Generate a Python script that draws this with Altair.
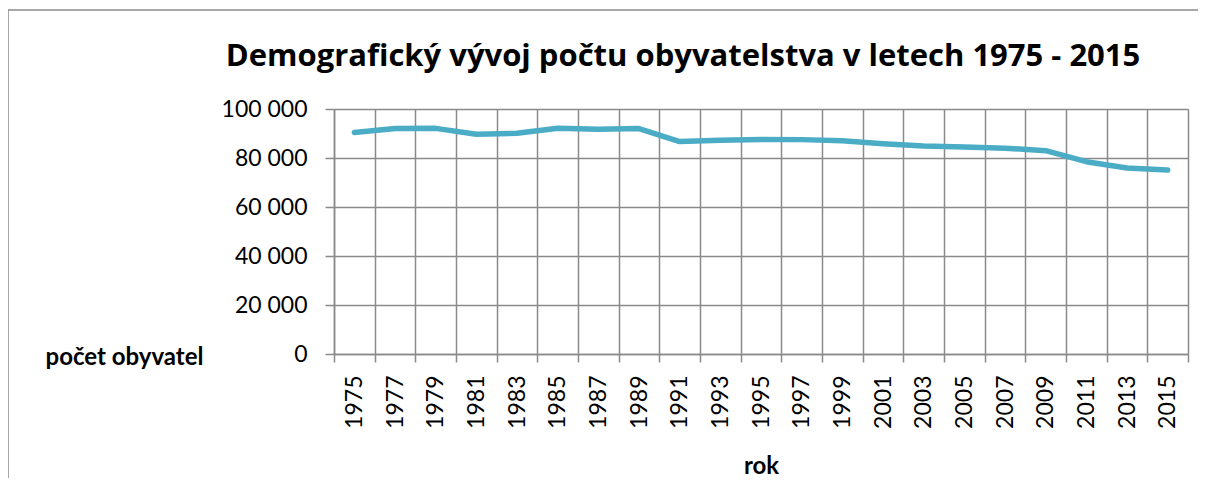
import altair as alt
import pandas as pd

years = ["1975", "1977", "1979", "1981", "1983", "1985", "1987", "1989", "1991",
         "1993", "1995", "1997", "1999", "2001", "2003", "2005", "2007", "2009",
         "2011", "2013", "2015"]
population = [90400, 92000, 92100, 89700, 90100, 92100, 91700, 92000, 86700,
              87200, 87600, 87500, 87000, 85800, 84900, 84500, 84000, 83000,
              78500, 75900, 75100]
y_ticks = [0, 20000, 40000, 60000, 80000, 100000]

GRID = "#8a8a8a"
FONT = "Lato"

df = pd.DataFrame({"rok": years, "pocet": population})
frame_df = pd.DataFrame({"k": [0]})

frame_top = alt.Chart(frame_df).mark_rule(color=GRID, strokeWidth=1.5).encode(
    x=alt.value(-326), x2=alt.value(864), y=alt.value(-99)
)
frame_left = alt.Chart(frame_df).mark_rule(color=GRID, strokeWidth=1.5).encode(
    x=alt.value(-326), y=alt.value(-99), y2=alt.value(376)
)

line = alt.Chart(df).mark_line(
    color="#4BACC6", strokeWidth=5.5, strokeCap="round", strokeJoin="round"
).encode(
    x=alt.X("rok:O", sort=None,
            scale=alt.Scale(paddingInner=0, paddingOuter=0),
            axis=alt.Axis(title="rok", tickBand="extent", grid=True,
                          gridColor=GRID, gridWidth=1.5,
                          tickColor=GRID, tickWidth=1.5, tickSize=8,
                          domainColor=GRID, domainWidth=1.5,
                          labelAngle=270, labelAlign="right", labelBaseline="middle",
                          labelPadding=13, labelFont=FONT, labelFontSize=23,
                          labelColor="#000000",
                          titleFont=FONT, titleFontSize=24, titleFontWeight="bold",
                          titleColor="#000000", titleBaseline="alphabetic",
                          titleY=119)),
    y=alt.Y("pocet:Q",
            scale=alt.Scale(domain=[0, 100000], nice=False),
            axis=alt.Axis(title="počet obyvatel", values=y_ticks, grid=True,
                          gridColor=GRID, gridWidth=1.5,
                          tickColor=GRID, tickWidth=1.5, tickSize=9,
                          domainColor=GRID, domainWidth=1.5,
                          labelExpr="replace(format(datum.value, ',d'), ',', ' ')",
                          labelPadding=18, labelFont=FONT, labelFontSize=23,
                          labelColor="#000000",
                          titleAngle=0, titleAlign="left", titleBaseline="alphabetic",
                          titleX=-289, titleY=255,
                          titleFont=FONT, titleFontSize=24, titleFontWeight="bold",
                          titleColor="#000000"))
)

chart = alt.layer(frame_top, frame_left, line).properties(
    width=854, height=245,
    autosize=alt.AutoSizeParams(type="none"),
    padding={"left": 326, "top": 101, "right": 10, "bottom": 124},
    title=alt.TitleParams(
        "Demografický vývoj počtu obyvatelstva v letech 1975 - 2015",
        font="Open Sans", fontSize=31, fontWeight="bold", color="#000000",
        anchor="middle", dx=-78, baseline="alphabetic", offset=-88,
    ),
).configure_view(stroke=GRID, strokeWidth=1.5).configure(background="white")

chart.save("out.html", embed_options={"renderer": "svg", "actions": False})
